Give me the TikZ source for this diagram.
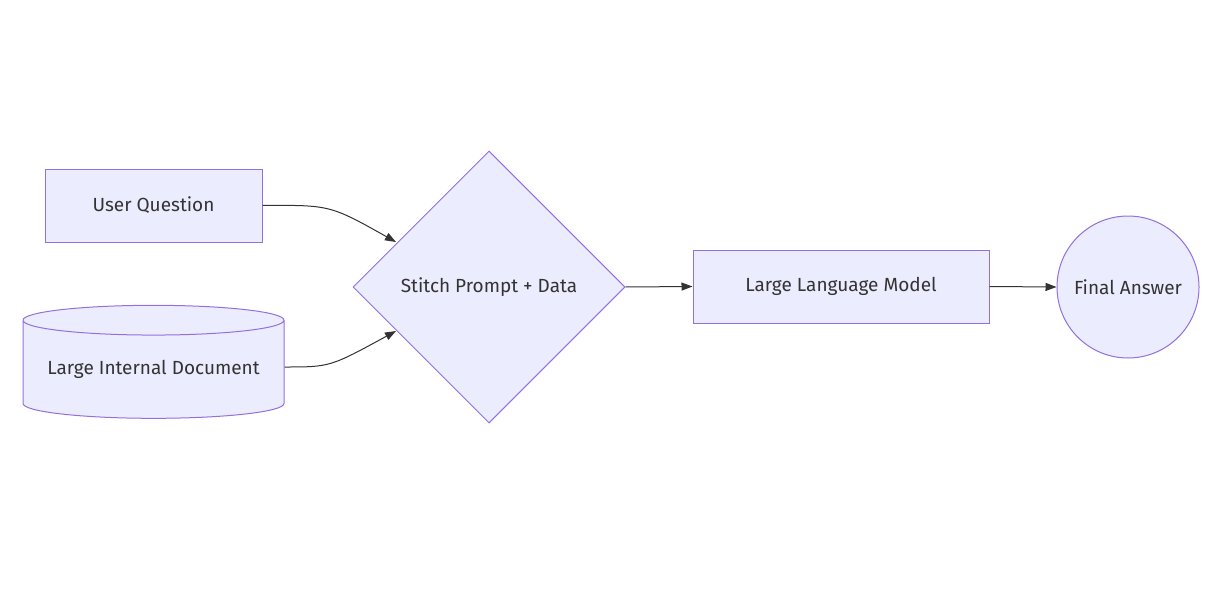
\documentclass[tikz,border=0pt]{standalone}
\usepackage{fontspec}
\setmainfont{Fira Sans}
\usetikzlibrary{arrows.meta}
\usetikzlibrary{positioning}
\usetikzlibrary{shapes.geometric}
\definecolor{boxfill}{HTML}{ECECFF}
\definecolor{boxline}{HTML}{9370DB}
\definecolor{linkcol}{HTML}{333333}
\begin{document}
\begin{tikzpicture}[x=1pt,y=-1pt,font=\fontsize{19}{23}\selectfont,
					every node/.style={draw=boxline,fill=boxfill,line width=1pt,text=linkcol,inner sep=0pt},
					link/.style={draw=linkcol,line width=1pt,-{Triangle[length=11pt,width=8pt]}}]
					\useasboundingbox (0,0) rectangle (1214,607);
					
					\node[minimum width=217pt,minimum height=73pt] (UQ) at (153.5,205.5) {User Question};
					\node[cylinder,shape border rotate=90,aspect=0.14,minimum width=261pt,minimum height=113pt] (DOC) at (153.5,369.5) {\raisebox{-12pt}{Large Internal Document}};
					\node[diamond,minimum width=272pt,minimum height=272pt] (SP) at (489,287) {Stitch Prompt + Data};
					\node[minimum width=296pt,minimum height=73pt] (LLM) at (841,286.5) {Large Language Model};
					\node[circle,minimum size=142pt] (FA) at (1128,287) {Final Answer};
					
					\coordinate (SPa) at (396,242);
					\coordinate (SPb) at (396,331);
					
					\draw[link] (UQ.east) .. controls (330,205) .. (SPa);
					\draw[link] (DOC.east |- 0,367) .. controls (330,367) .. (SPb);
					\draw[link] (SP.east) -- (LLM.west);
					\draw[link] (LLM.east) -- (FA.west);
\end{tikzpicture}
\end{document}
